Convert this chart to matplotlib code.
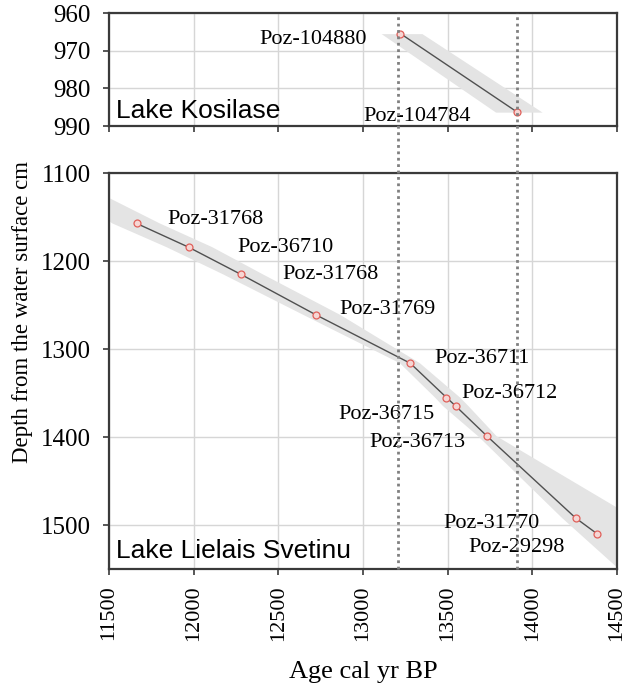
"""
Age-depth models for Lake Kosilase and Lake Lielais Svetinu.
"""

import matplotlib.pyplot as plt
import matplotlib.transforms as mtransforms
from matplotlib.lines import Line2D

# --- Lake Kosilase (top panel) ---
kos_age = [13222, 13912]
kos_depth = [965.4, 986.3]
kos_band_lo = [13108, 13784]
kos_band_hi = [13349, 14059]
kos_labels = ["Poz-104880", "Poz-104784"]
kos_label_x = [13024, 13000]
kos_label_y = [966.9, 987.5]
kos_label_ha = ["right", "left"]

# --- Lake Lielais Svetinu (bottom panel) ---
lls_age = [11663, 11970, 12280, 12723, 13280, 13494, 13550, 13734, 14257, 14384]
lls_depth = [1157, 1184, 1215, 1261, 1316, 1355, 1365, 1399, 1492, 1510]
lls_band_depth = [1128, 1157, 1184, 1215, 1261, 1316, 1355, 1365, 1399, 1492, 1510, 1560]
lls_band_lo = [11300, 11520, 11840, 12175, 12648, 13219, 13426, 13475, 13681, 14177, 14281, 14570]
lls_band_hi = [11500, 11800, 12110, 12410, 12866, 13337, 13574, 13625, 13790, 14605, 14763, 15200]
lls_labels = ["Poz-31768", "Poz-36710", "Poz-31768", "Poz-31769", "Poz-36711",
              "Poz-36712", "Poz-36715", "Poz-36713", "Poz-31770", "Poz-29298"]
lls_label_x = [11845, 12257, 12524, 12864, 13424, 13583, 12857, 13036, 13476, 13626]
lls_label_y = [1153, 1184, 1215, 1255, 1311, 1350, 1374, 1406, 1498, 1526]

# dotted reference lines (ages of the Kosilase dates)
ref_ages = [13205, 13912]

x_ticks = [11500, 12000, 12500, 13000, 13500, 14000, 14500]

SERIF = ["Liberation Serif", "DejaVu Serif"]
SANS = ["Liberation Sans", "DejaVu Sans"]
DARK = "#3a3a3a"

fig = plt.figure(figsize=(6.3, 6.94), dpi=100)
ax_top = fig.add_axes([0.173, 0.8184, 0.806, 0.1624])
ax_bot = fig.add_axes([0.173, 0.1801, 0.806, 0.5702])


def style_axes(ax, yticks):
    ax.set_xlim(11500, 14500)
    ax.set_xticks(x_ticks)
    ax.set_yticks(yticks)
    ax.grid(True, color="#d6d6d6", linewidth=1.0)
    ax.set_axisbelow(True)
    for sp in ax.spines.values():
        sp.set_color(DARK)
        sp.set_linewidth(1.6)
    ax.tick_params(direction="out", length=4, width=1.2, color=DARK,
                   labelsize=18, pad=9)
    for lab in ax.get_yticklabels() + ax.get_xticklabels():
        lab.set_family(SERIF)


# top panel
ax_top.fill_betweenx(kos_depth, kos_band_lo, kos_band_hi, color="#e4e4e4", lw=0, zorder=1)
ax_top.plot(kos_age, kos_depth, color="#505050", lw=1.0, zorder=3,
            marker="o", ms=5, mfc="#f6d6d4", mec="#e0605a", mew=0.9)
ax_top.set_ylim(990, 960)
style_axes(ax_top, [960, 970, 980, 990])
ax_top.tick_params(axis="x", labelbottom=False)
for txt, x, y, ha in zip(kos_labels, kos_label_x, kos_label_y, kos_label_ha):
    ax_top.text(x, y, txt, ha=ha, va="center", fontsize=16, family=SERIF, zorder=4)
ax_top.text(0.014, 0.13, "Lake Kosilase", transform=ax_top.transAxes,
            ha="left", va="center", fontsize=19, family=SANS)

# bottom panel
ax_bot.fill_betweenx(lls_band_depth, lls_band_lo, lls_band_hi, color="#e4e4e4", lw=0, zorder=1)
ax_bot.plot(lls_age, lls_depth, color="#505050", lw=1.0, zorder=3,
            marker="o", ms=5, mfc="#f6d6d4", mec="#e0605a", mew=0.9)
ax_bot.set_ylim(1550, 1100)
style_axes(ax_bot, [1100, 1200, 1300, 1400, 1500])
ax_bot.tick_params(axis="x", labelrotation=90, labelsize=16, pad=8)
for txt, x, y in zip(lls_labels, lls_label_x, lls_label_y):
    ax_bot.text(x, y, txt, ha="left", va="center", fontsize=16, family=SERIF, zorder=4)
ax_bot.text(0.014, 0.045, "Lake Lielais Svetinu", transform=ax_bot.transAxes,
            ha="left", va="center", fontsize=19, family=SANS)

# dotted lines running through both panels
trans = mtransforms.blended_transform_factory(ax_bot.transData, fig.transFigure)
for a in ref_ages:
    fig.add_artist(Line2D([a, a], [0.1801, 0.9808], transform=trans,
                          color="#808080", lw=2.0, linestyle=(0, (1, 1.3)), zorder=2))

fig.text(0.035, 0.55, "Depth from the water surface cm", rotation=90,
         ha="center", va="center", fontsize=16.5, family=SERIF)
fig.text(0.576, 0.031, "Age cal yr BP", ha="center", va="center",
         fontsize=19, family=SERIF)

fig.savefig("out.png", dpi=100)
